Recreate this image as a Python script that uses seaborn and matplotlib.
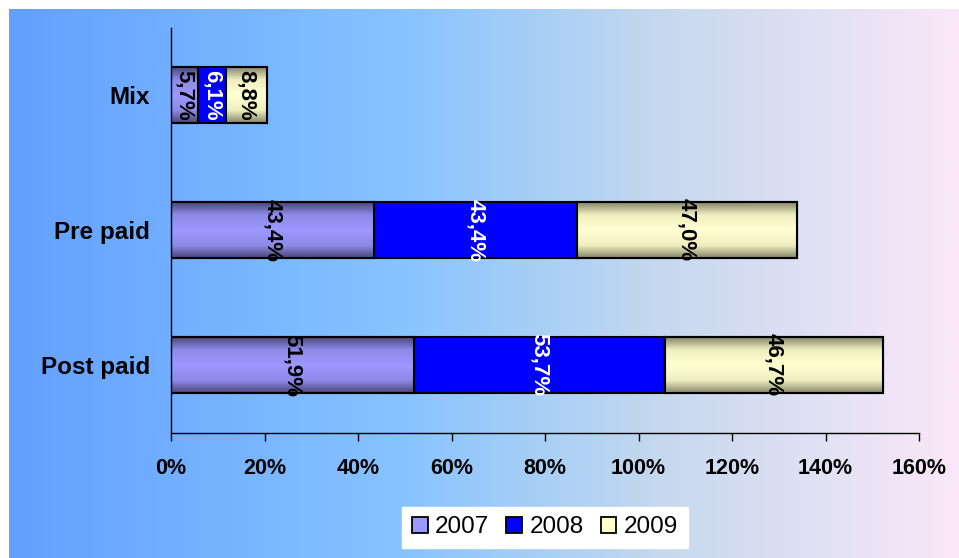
import numpy as np
import pandas as pd
import matplotlib
matplotlib.use("Agg")
import matplotlib.pyplot as plt
import seaborn as sns
from matplotlib.colors import LinearSegmentedColormap
from matplotlib.patches import Patch, Rectangle

# Market share by subscription type, per year
categories = ["Mix", "Pre paid", "Post paid"]
years = ["2007", "2008", "2009"]
share_2007 = [5.7, 43.4, 51.9]
share_2008 = [6.1, 43.4, 53.7]
share_2009 = [8.8, 47.0, 46.7]
x_ticks = [0, 20, 40, 60, 80, 100, 120, 140, 160]

sns.set_style("white")
plt.rcParams["font.family"] = ["Liberation Sans", "DejaVu Sans"]
plt.rcParams["text.color"] = "black"
plt.rcParams["xtick.color"] = "black"
plt.rcParams["ytick.color"] = "black"
plt.rcParams["axes.labelcolor"] = "black"
narrow = ["Liberation Sans Narrow", "Liberation Sans", "DejaVu Sans"]

df = pd.DataFrame({
    "segment": categories * 3,
    "year": [y for y in years for _ in categories],
    "share": share_2007 + share_2008 + share_2009,
})

fig = plt.figure(figsize=(9.59, 5.58), dpi=100)

# gradient backdrop panel
bg = fig.add_axes([9 / 959, 0, 950 / 959, 549 / 558], zorder=-1)
bg_cmap = LinearSegmentedColormap.from_list(
    "bg", [(0.0, "#62a0ff"), (0.42, "#88c4ff"), (0.68, "#c4d8ee"), (1.0, "#fae8f8")])
bg.imshow(np.linspace(0, 1, 512)[None, :], cmap=bg_cmap, aspect="auto",
          extent=(0, 1, 0, 1))
bg.set_axis_off()

ax = fig.add_axes([171 / 959, 125.5 / 558, 748 / 959, 405 / 558])
ax.patch.set_alpha(0)

face = {"2007": "#9999ff", "2008": "#0000ff", "2009": "#ffffcc"}
shades = {
    "2007": LinearSegmentedColormap.from_list(
        "s07", [(0, "#9c98ff"), (0.55, "#8e8ae8"), (1, "#4a4678")]),
    "2009": LinearSegmentedColormap.from_list(
        "s09", [(0, "#ffffd2"), (0.55, "#eeeebe"), (1, "#86866a")]),
}

offset = np.zeros(len(categories))
for yr in years:
    sub = df[df["year"] == yr].set_index("segment").loc[categories].reset_index()
    sns.barplot(data=sub, x="share", y="segment", order=categories, orient="y",
                left=offset.copy(), color=face[yr], saturation=1,
                edgecolor="black", linewidth=1.5, width=0.41, ax=ax)
    offset = offset + sub["share"].to_numpy()

# cylinder-style shading on the 2007 and 2009 segments
grad = np.abs(np.linspace(-1, 1, 128))[:, None]
for yr, cont in zip(years, ax.containers):
    if yr not in shades:
        continue
    for p in cont.patches:
        x0, y0, w, h = p.get_x(), p.get_y(), p.get_width(), p.get_height()
        im = ax.imshow(grad, cmap=shades[yr], vmin=0, vmax=1, aspect="auto",
                       extent=(x0, x0 + w, y0 + h, y0), interpolation="bilinear",
                       zorder=p.get_zorder() + 0.1)
        im.set_clip_path(p)
        ax.add_patch(Rectangle((x0, y0), w, h, fill=False, edgecolor="black",
                               linewidth=1.5, zorder=p.get_zorder() + 0.2))

for yr, cont, vals in zip(years, ax.containers, [share_2007, share_2008, share_2009]):
    labels = [f"{v:.1f}".replace(".", ",") + "%" for v in vals]
    txt = ax.bar_label(cont, labels=labels, label_type="center", rotation=270,
                       fontsize=16, fontweight="bold",
                       color="white" if yr == "2008" else "black")
    for t in txt:
        t.set_zorder(5)

ax.set_xlim(0, 160)
ax.set_ylim(2.5, -0.5)
ax.set_xticks(x_ticks)
ax.set_xticklabels([f"{t}%" for t in x_ticks], fontsize=15.5, fontweight="bold",
                   family=narrow, color="black")
ax.set_yticks(range(len(categories)))
ax.set_yticklabels(categories, fontsize=17.5, fontweight="bold", color="black")
ax.tick_params(axis="x", direction="out", length=6, width=1, color="black",
               pad=12, bottom=True)
ax.tick_params(axis="y", length=0, pad=15)
ax.set_xlabel("")
ax.set_ylabel("")
for side in ["top", "right"]:
    ax.spines[side].set_visible(False)
for side in ["left", "bottom"]:
    ax.spines[side].set_color("black")
    ax.spines[side].set_linewidth(1)

handles = [Patch(facecolor=face[y], edgecolor="black", linewidth=1.3, label=y)
           for y in years]
leg = fig.legend(handles=handles, loc="lower center", ncol=3,
                 bbox_to_anchor=(545 / 959, -0.004), bbox_transform=fig.transFigure,
                 frameon=True, fancybox=False, facecolor="white", edgecolor="white",
                 framealpha=1, fontsize=17.5, handlelength=0.65, handleheight=0.65,
                 handletextpad=0.3, columnspacing=0.7, borderpad=0.4,
                 labelcolor="black")

fig.savefig("out.png", dpi=100)
